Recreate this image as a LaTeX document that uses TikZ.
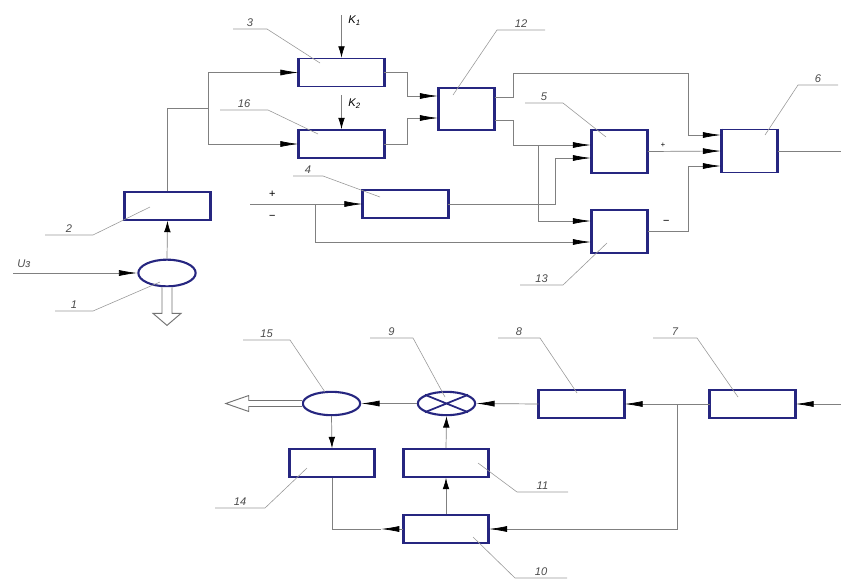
\documentclass[tikz,border=0pt]{standalone}
\usepackage{fontspec}
\setmainfont{Liberation Sans}
\usetikzlibrary{arrows.meta,shapes.geometric}
\definecolor{boxblue}{RGB}{38,38,128}

\begin{document}
\begin{tikzpicture}[
  x=0.03cm,
  y=-0.03cm,
  font=\fontsize{9.5}{11}\selectfont\itshape,
  block/.style={
    draw=boxblue,
    line width=1.5pt,
    minimum width=2.52cm,
    minimum height=0.84cm,
    append after command={
      (\tikzlastnode.north west) edge[draw=boxblue, line width=2.6pt] (\tikzlastnode.south west)
      (\tikzlastnode.north east) edge[draw=boxblue, line width=2.6pt] (\tikzlastnode.south east)
    }
  },
  sqblock/.style={
    block,
    minimum width=1.65cm,
    minimum height=1.29cm
  },
  oval/.style={
    ellipse,
    draw=boxblue,
    line width=1.8pt,
    minimum width=1.72cm,
    minimum height=0.70cm
  },
  wire/.style={
    draw=gray,
    line width=0.6pt
  },
  arr/.style={
    wire,
    -{Latex[length=5.5mm,width=1.8mm,color=black]}
  },
  varr/.style={
    wire,
    -{Latex[length=3.4mm,width=2mm,color=black]}
  },
  lead/.style={
    draw=gray!80,
    line width=0.5pt
  },
  tag/.style={
    anchor=south,
    inner sep=1.5pt,
    text=black!70
  },
  hollow/.style={
    draw=gray!90!black,
    line width=0.8pt,
    fill=white
  },
]
\useasboundingbox (0,0) rectangle (841,579);

\node[oval, minimum height=0.8cm] (e1) at (167,273) {};
\node[block] (b2) at (167.5,206) {};
\node[block] (b3) at (341.5,72.5) {};
\node[block] (b16) at (341.5,144) {};
\node[sqblock, minimum height=1.26cm] (b12) at (466.5,109) {};
\node[block] (b4) at (405.5,204) {};
\node[sqblock] (b5) at (619.5,151.5) {};
\node[sqblock] (b13) at (619.5,231.5) {};
\node[sqblock] (b6) at (749.5,151) {};

\node[block] (b7) at (752.5,404) {};
\node[block] (b8) at (581.5,404) {};
\node[oval] (e9) at (446.5,403.5) {};
\node[oval] (e15) at (331.5,403.5) {};
\node[block] (b14) at (332,463) {};
\node[block] (b11) at (446,463) {};
\node[block] (b10) at (446,529) {};
\draw[draw=boxblue, line width=1.5pt] (e9.22) -- (e9.202) (e9.158) -- (e9.-22);

\coordinate (uin) at (13,273);
\coordinate (fork) at (208,108);
\coordinate (k1) at (341.5,15);
\coordinate (k2) at (341.5,95);
\coordinate (pm) at (250,204);
\coordinate (out6) at (841,151);
\coordinate (in7) at (841,404);

\node[tag] (tu) at (24,270) {Uз};
\node[anchor=west, inner sep=1pt] (tk1) at (347,21) {K\textsubscript{1}};
\node[anchor=west, inner sep=1pt] (tk2) at (347,104) {K\textsubscript{2}};
\node[inner sep=0pt] (tp) at (272,194) {+};
\node[inner sep=0pt] (tm) at (272,217) {−};
\node[inner sep=0pt, scale=0.7] (tp5) at (663,145) {+};
\node[inner sep=0pt] (tm13) at (666,222) {−};

\draw[arr] (uin) -- (e1.west);
\draw[varr] (e1.north) -- (b2.south);
\draw[hollow] (e1.south) ++(-5,0) -- ++(0,26) -- ++(-9,0) -- ++(14,12)
  -- ++(14,-12) -- ++(-9,0) -- ++(0,-26);
\draw[wire] (b2.north) |- (fork);
\draw[arr] (fork) |- (b3.west);
\draw[arr] (fork) |- (b16.west);
\draw[varr] (k1) -- (b3.north);
\draw[varr] (k2) -- (b16.north);
\draw[arr] (b3.east) -| (407,96) -- (b12.west |- 0,96);
\draw[arr] (b16.east) -| (407,118) -- (b12.west |- 0,118);
\draw[arr] (b12.east |- 0,97) -| (513,73) -| (688,135) -- (b6.west |- 0,135);
\draw[arr] (b12.east |- 0,120) -| (513,145) -- (b5.west |- 0,145);
\draw[arr] (538,145) |- (b13.west |- 0,221);
\draw[arr] (pm) -- (b4.west);
\draw[arr] (315,204) |- (b13.west |- 0,242);
\draw[arr] (b4.east) -| (555,158) -- (b5.west |- 0,158);
\draw[arr] (b5.east) -- (b6.west);
\draw[arr] (b13.east) -| (688,166) -- (b6.west |- 0,166);
\draw[wire] (b6.east) -- (out6);

\draw[arr] (in7) -- (b7.east);
\draw[arr] (b7.west) -- (b8.east);
\draw[arr] (677,404) |- (b10.east);
\draw[arr] (b8.west) -- (e9.east);
\draw[arr] (e9.west) -- (e15.east);
\draw[hollow] (e15.west) ++(0,-3) -- ++(-53,0) -- ++(0,-5) -- ++(-23,8)
  -- ++(23,8) -- ++(0,-5) -- ++(53,0);
\draw[varr] (e15.south) -- (b14.north);
\draw[varr] (b10.north) -- (b11.south);
\draw[varr] (b11.north) -- (e9.south);
\draw[arr] (b10.west) -- (381,529);
\draw[wire] (381,529) -| (b14.south);

\draw[lead] (55,311) -- node[tag] (t1) {1} (93,311) -- (160,282);
\draw[lead] (45,235) -- node[tag] (t2) {2} (93,235) -- (150,207);
\draw[lead] (233,29) -- node[tag] (t3) {3} (267,29) -- (320,63);
\draw[lead] (220,110) -- node[tag] (t16) {16} (268,110) -- (318,134);
\draw[lead] (545,30) -- node[tag] (t12) {12} (497,30) -- (453,95);
\draw[lead] (293,176) -- node[tag] (t4) {4} (323,176) -- (380,197);
\draw[lead] (525,103) -- node[tag] (t5) {5} (563,103) -- (606,137);
\draw[lead] (838,85) -- node[tag] (t6) {6} (798,85) -- (765,135);
\draw[lead] (520,285) -- node[tag] (t13) {13} (563,285) -- (607,243);
\draw[lead] (243,340) -- node[tag] (t15) {15} (290,340) -- (325,392);
\draw[lead] (370,338) -- node[tag] (t9) {9} (413,338) -- (445,397);
\draw[lead] (498,338) -- node[tag] (t8) {8} (540,338) -- (577,393);
\draw[lead] (653,338) -- node[tag] (t7) {7} (697,338) -- (738,397);
\draw[lead] (215,508) -- node[tag] (t14) {14} (265,508) -- (307,468);
\draw[lead] (568,492) -- node[tag] (t11) {11} (517,492) -- (478,463);
\draw[lead] (567,578) -- node[tag] (t10) {10} (515,578) -- (473,537);
\end{tikzpicture}
\end{document}
